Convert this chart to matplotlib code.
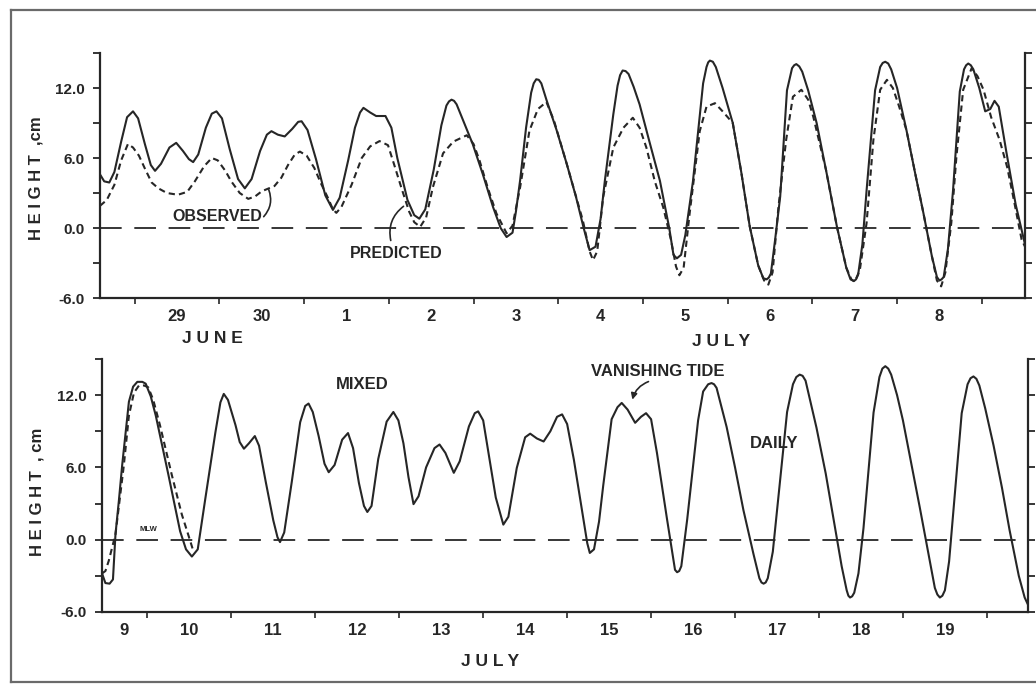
import matplotlib.pyplot as plt
from matplotlib.lines import Line2D

plt.rcParams['font.family'] = ['Liberation Sans', 'DejaVu Sans']
plt.rcParams['axes.unicode_minus'] = False

INK = '#262626'

# time axis: days since 1 July 00:00, heights in cm
top_obs_t = [-2.41, -2.36, -2.30, -2.24, -2.16, -2.09, -2.02, -1.96, -1.88, -1.81, -1.76, -1.69,
             -1.59, -1.51, -1.43, -1.36, -1.31, -1.25, -1.16, -1.09, -1.035, -0.97, -0.88, -0.78,
             -0.70, -0.62, -0.52, -0.44, -0.386, -0.31, -0.229, -0.14, -0.07, -0.03, 0.04, 0.14,
             0.25, 0.34, 0.42, 0.52, 0.60, 0.66, 0.70, 0.78, 0.85, 0.96, 1.03, 1.10, 1.22, 1.30,
             1.36, 1.43, 1.53, 1.62, 1.68, 1.71, 1.74, 1.77, 1.80, 1.90, 1.99, 2.11, 2.23, 2.32,
             2.39, 2.46, 2.50, 2.55, 2.62, 2.68, 2.71, 2.74, 2.77, 2.80, 2.86, 2.98, 3.10, 3.21,
             3.30, 3.37, 3.44, 3.50, 3.55, 3.65, 3.70, 3.73, 3.76, 3.795, 3.83, 3.89, 3.96, 4.08,
             4.20, 4.31, 4.36, 4.40, 4.45, 4.50, 4.59, 4.71, 4.75, 4.77, 4.79, 4.825, 4.86, 4.94,
             5.06, 5.16, 5.26, 5.36, 5.42, 5.46, 5.485, 5.51, 5.56, 5.62, 5.70, 5.76, 5.785, 5.81,
             5.845, 5.88, 5.95, 6.05, 6.16, 6.29, 6.40, 6.45, 6.49, 6.515, 6.54, 6.59, 6.64, 6.74,
             6.80, 6.83, 6.86, 6.895, 6.93, 7.00, 7.11, 7.21, 7.31, 7.41, 7.47, 7.50, 7.525, 7.55,
             7.60, 7.66, 7.74, 7.79, 7.815, 7.84, 7.87, 7.90, 7.97, 8.04, 8.10, 8.15, 8.20, 8.29,
             8.40, 8.51]
top_obs_h = [4.6, 4.0, 3.9, 4.8, 7.4, 9.5, 10.0, 9.4, 7.2, 5.4, 4.9, 5.5,
             6.9, 7.3, 6.6, 5.9, 5.65, 6.3, 8.6, 9.8, 10.0, 9.4, 6.8, 4.2,
             3.4, 4.2, 6.6, 8.0, 8.3, 8.0, 7.85, 8.5, 9.1, 9.15, 8.4, 5.9,
             2.8, 1.55, 2.6, 5.8, 8.6, 9.9, 10.3, 9.9, 9.6, 9.6, 8.6, 6.0, 2.4, 1.1,
             0.8, 1.6, 5.0, 8.8, 10.5, 10.85, 11.0, 10.9, 10.6, 8.8, 7.2, 4.6, 1.8, 0.0,
             -0.77, -0.4, 1.4, 4.1, 8.6, 11.6, 12.4, 12.75, 12.7, 12.4, 11.0, 8.4, 5.5, 2.65,
             0.0, -1.9, -1.6, 0.8, 4.05, 9.75, 12.2, 13.1, 13.5, 13.45, 13.2, 12.1, 10.6, 7.3,
             4.05, 0.0, -2.3, -2.6, -2.3, -0.6, 4.0, 12.4, 13.8, 14.2, 14.35, 14.25, 13.8, 12.0,
             9.0, 4.8, 0.15, -3.2, -4.3, -4.4, -4.25, -3.9, -1.0, 2.7, 11.8, 13.7, 13.95, 14.05,
             13.85, 13.4, 11.8, 9.0, 5.0, 0.1, -3.4, -4.4, -4.55, -4.4, -4.0, -1.4, 3.25, 11.8,
             13.8, 14.15, 14.25, 14.1, 13.6, 12.0, 8.4, 4.8, 1.3, -2.4, -4.2, -4.5, -4.4, -4.2,
             -1.8, 3.2, 11.7, 13.6, 13.95, 14.1, 13.95, 13.6, 12.0, 10.0, 10.2, 10.9, 10.4, 6.5,
             2.0, -1.4]

top_pred_t = [-2.41, -2.33, -2.24, -2.16, -2.08, -2.02, -1.95, -1.88, -1.80, -1.72, -1.62, -1.49,
              -1.38, -1.29, -1.18, -1.09, -1.02, -0.93, -0.86, -0.76, -0.66, -0.58, -0.50, -0.35,
              -0.27, -0.19, -0.11, -0.05, 0.03, 0.12, 0.20, 0.28, 0.34, 0.38, 0.44, 0.56, 0.68,
              0.78, 0.89, 0.99, 1.06, 1.15, 1.24, 1.30, 1.37, 1.44, 1.52, 1.64, 1.76, 1.92, 2.00,
              2.07, 2.17, 2.27, 2.39, 2.46, 2.55, 2.66, 2.76, 2.86, 2.95, 3.10, 3.29, 3.37, 3.41,
              3.46, 3.53, 3.65, 3.77, 3.88, 3.96, 4.04, 4.14, 4.24, 4.33, 4.39, 4.43, 4.48, 4.55,
              4.67, 4.75, 4.85, 4.94, 5.06, 5.16, 5.26, 5.36, 5.43, 5.48, 5.53, 5.60, 5.69, 5.77,
              5.87, 5.95, 6.01, 6.16, 6.29, 6.40, 6.46, 6.50, 6.56, 6.64, 6.72, 6.80, 6.88, 6.95,
              7.02, 7.11, 7.21, 7.31, 7.41, 7.47, 7.52, 7.57, 7.64, 7.70, 7.78, 7.88, 7.95, 8.02,
              8.11, 8.21, 8.30, 8.37, 8.47, 8.51]
top_pred_h = [1.9, 2.4, 3.7, 5.8, 7.2, 6.9, 6.2, 5.1, 3.9, 3.4, 3.0, 2.85,
              3.1, 4.0, 5.3, 6.0, 5.8, 4.9, 4.0, 3.0, 2.5, 2.7, 3.15, 3.6,
              4.3, 5.4, 6.3, 6.55, 6.2, 5.15, 3.8, 2.6, 1.6, 1.3, 1.8, 3.7, 6.0,
              7.0, 7.45, 7.1, 5.5, 3.4, 1.4, 0.5, 0.1, 0.9, 3.5, 6.4, 7.4, 7.95, 7.2,
              5.8, 3.4, 1.25, -0.45, 0.2, 3.5, 8.35, 10.2, 10.8, 9.2, 5.5, 0.65, -2.0, -2.75,
              -2.0, 2.65, 6.9, 8.6, 9.45, 8.6, 6.9, 4.0, 1.75, -1.0, -3.3, -4.05, -3.4, 1.2,
              8.3, 10.4, 10.7, 10.0, 9.0, 4.8, 0.15, -3.2, -4.5, -4.85, -3.8, 1.85, 7.55, 11.25,
              11.85, 11.0, 9.55, 5.0, 0.1, -3.4, -4.4, -4.6, -3.6, 0.45, 7.55, 11.85, 12.7, 12.0,
              10.5, 8.4, 4.8, 1.3, -2.4, -4.5, -5.0, -3.8, 0.45, 6.1, 11.85, 13.7, 13.0, 11.85,
              9.5, 7.55, 5.2, 2.7, -1.0, -1.6]

bot_obs_t = [8.46, 8.50, 8.55, 8.59, 8.62, 8.66, 8.70, 8.78, 8.83, 8.88, 8.94, 8.98, 9.04,
             9.10, 9.25, 9.39, 9.46, 9.53, 9.60, 9.69, 9.81, 9.87, 9.91, 9.96, 10.05, 10.10,
             10.15, 10.21, 10.28, 10.33, 10.41, 10.50, 10.55, 10.58, 10.63, 10.72, 10.82, 10.88,
             10.92, 10.97, 11.04, 11.11, 11.16, 11.23, 11.32, 11.39, 11.45, 11.52, 11.58, 11.62,
             11.67, 11.75, 11.85, 11.93, 11.99, 12.05, 12.11, 12.17, 12.23, 12.32, 12.42, 12.48,
             12.55, 12.65, 12.72, 12.83, 12.90, 12.94, 13.00, 13.06, 13.15, 13.24, 13.30, 13.40,
             13.50, 13.56, 13.64, 13.72, 13.80, 13.88, 13.94, 14.00, 14.08, 14.18, 14.24, 14.27,
             14.32, 14.38, 14.43, 14.53, 14.60, 14.65, 14.72, 14.81, 14.88, 14.94, 15.00, 15.07,
             15.19, 15.26, 15.285, 15.31, 15.335, 15.36, 15.43, 15.56, 15.62, 15.68, 15.72, 15.75,
             15.78, 15.90, 16.00, 16.10, 16.22, 16.29, 16.315, 16.34, 16.365, 16.39, 16.45, 16.50,
             16.62, 16.69, 16.73, 16.77, 16.805, 16.84, 16.97, 17.08, 17.17, 17.27, 17.33, 17.35,
             17.37, 17.395, 17.42, 17.47, 17.53, 17.65, 17.72, 17.755, 17.79, 17.825, 17.86, 17.93,
             18.00, 18.20, 18.30, 18.38, 18.41, 18.44, 18.47, 18.50, 18.55, 18.60, 18.70, 18.77,
             18.805, 18.84, 18.875, 18.91, 18.98, 19.08, 19.18, 19.27, 19.38, 19.45, 19.49]
bot_obs_h = [-2.8, -3.6, -3.65, -3.3, 0.45, 3.2, 6.2, 11.45, 12.7, 13.1, 13.1, 12.95, 11.9,
             10.3, 5.4, 0.7, -0.8, -1.4, -0.8, 3.4, 8.9, 11.4, 12.1, 11.6, 9.5, 8.1,
             7.55, 8.0, 8.6, 7.8, 4.8, 1.6, 0.2, -0.2, 0.6, 4.8, 9.75, 11.1,
             11.3, 10.6, 8.6, 6.3, 5.6, 6.2, 8.3, 8.85, 7.6, 4.7, 2.8, 2.3,
             2.8, 6.7, 9.8, 10.6, 9.9, 8.0, 5.2, 2.95, 3.6, 6.0, 7.6, 7.9,
             7.2, 5.55, 6.5, 9.4, 10.5, 10.65, 9.9, 7.35, 3.5, 1.25, 1.9, 5.95,
             8.5, 8.8, 8.4, 8.15, 9.0, 10.2, 10.4, 9.6, 6.65, 2.3, -0.3, -1.1,
             -0.8, 1.5, 4.5, 10.0, 11.0, 11.35, 10.8, 9.7, 10.2, 10.5, 10.0, 7.2,
             1.7, -1.4, -2.5, -2.7, -2.6, -2.2, 1.67, 9.9, 12.3, 12.9, 13.0, 12.9,
             12.6, 9.35, 6.0, 2.45, -1.2, -3.2, -3.55, -3.65, -3.55, -3.2, -1.0, 2.4,
             10.6, 12.9, 13.5, 13.7, 13.6, 13.2, 9.3, 5.5, 1.85, -2.2, -4.2, -4.65,
             -4.8, -4.7, -4.4, -2.8, 0.95, 10.55, 13.5, 14.2, 14.4, 14.2, 13.7, 12.0,
             9.9, 2.7, -1.0, -4.0, -4.55, -4.8, -4.65, -4.2, -1.8, 2.3, 10.5, 12.9,
             13.4, 13.55, 13.35, 12.8, 10.9, 7.8, 4.3, 0.8, -3.0, -4.8, -5.4]

bot_pred_t = [8.46, 8.50, 8.54, 8.62, 8.72, 8.78, 8.84, 8.90, 8.96, 9.01, 9.07, 9.15, 9.29,
              9.41, 9.51, 9.55]
bot_pred_h = [-2.8, -2.6, -1.75, 0.45, 6.2, 10.3, 12.2, 12.8, 12.8, 12.65, 11.6, 9.5, 5.4,
              2.1, -0.1, -1.0]

y_ticks = [-6, -3, 0, 3, 6, 9, 12, 15]
y_tick_labels = ['-6.0', '', '0.0', '', '6.0', '', '12.0', '']

top_midnights = [-2, -1, 0, 1, 2, 3, 4, 5, 6, 7, 8]
top_day_pos = [-1.5, -0.5, 0.5, 1.5, 2.5, 3.5, 4.5, 5.5, 6.5, 7.5]
top_day_labels = ['29', '30', '1', '2', '3', '4', '5', '6', '7', '8']

bot_midnights = [9, 10, 11, 12, 13, 14, 15, 16, 17, 18, 19]
bot_day_pos = [8.72, 9.5, 10.5, 11.5, 12.5, 13.5, 14.5, 15.5, 16.5, 17.5, 18.5]
bot_day_labels = ['9', '10', '11', '12', '13', '14', '15', '16', '17', '18', '19']


def style_axes(ax, xlim, midnights, day_pos, day_labels):
    ax.set_xlim(*xlim)
    ax.set_ylim(-6, 15)
    ax.spines['top'].set_visible(False)
    for s in ['left', 'right', 'bottom']:
        ax.spines[s].set_linewidth(1.6)
        ax.spines[s].set_color(INK)
    ax.set_yticks(y_ticks)
    ax.set_yticklabels(y_tick_labels)
    ax.tick_params(axis='y', which='major', direction='out', length=5, width=1.3,
                   color=INK, left=True, right=True, labelleft=True, labelright=False,
                   labelsize=11, pad=6, labelcolor=INK)
    for lab in ax.get_yticklabels():
        lab.set_fontweight('bold')
    ax.set_xticks(midnights)
    ax.set_xticklabels([])
    ax.set_xticks(day_pos, minor=True)
    ax.set_xticklabels(day_labels, minor=True, fontsize=12, fontweight='bold', color=INK)
    ax.tick_params(axis='x', which='major', direction='out', length=4, width=1.2, color=INK)
    ax.tick_params(axis='x', which='minor', length=0, pad=8)
    ax.axhline(0, color=INK, lw=1.3, ls=(0, (12, 7)), zorder=1)


fig = plt.figure(figsize=(10.36, 6.84), dpi=100)

ax1 = fig.add_axes([0.0965, 0.5643, 0.8929, 0.3582])
ax1.plot(top_obs_t, top_obs_h, color=INK, lw=1.5, solid_joinstyle='round')
ax1.plot(top_pred_t, top_pred_h, color=INK, lw=1.5, ls=(0, (3, 2)))
style_axes(ax1, (-2.41, 8.51), top_midnights, top_day_pos, top_day_labels)

ax2 = fig.add_axes([0.0985, 0.1053, 0.8938, 0.3699])
ax2.plot(bot_obs_t, bot_obs_h, color=INK, lw=1.5, solid_joinstyle='round')
ax2.plot(bot_pred_t, bot_pred_h, color=INK, lw=1.5, ls=(0, (3, 2)))
style_axes(ax2, (8.46, 19.49), bot_midnights, bot_day_pos, bot_day_labels)

txt = dict(color=INK, fontweight='bold', ha='center', va='center')

# upper panel labels
ax1.text(-1.02, 1.0, 'OBSERVED', fontsize=11.5, **txt)
ax1.annotate('', xy=(-0.43, 3.5), xytext=(-0.50, 0.8),
             arrowprops=dict(arrowstyle='-', color=INK, lw=1.2,
                             connectionstyle='arc3,rad=0.35'))
ax1.text(1.09, -2.15, 'PREDICTED', fontsize=11.5, **txt)
ax1.annotate('', xy=(1.20, 2.0), xytext=(1.03, -1.3),
             arrowprops=dict(arrowstyle='-', color=INK, lw=1.2,
                             connectionstyle='arc3,rad=-0.35'))

# lower panel labels
ax2.text(11.56, 12.9, 'MIXED', fontsize=12, **txt)
ax2.text(15.08, 14.0, 'VANISHING TIDE', fontsize=12, **txt)
ax2.annotate('', xy=(14.77, 11.4), xytext=(15.0, 13.2),
             arrowprops=dict(arrowstyle='-|>', color=INK, lw=1.2, mutation_scale=9,
                             connectionstyle='arc3,rad=0.3'))
ax2.text(16.46, 8.0, 'DAILY', fontsize=12, **txt)
ax2.text(9.01, 0.85, 'MLW', fontsize=5.5, **txt)

# month names and y labels
fig.text(212 / 1036, 1 - 338 / 684, 'J U N E', fontsize=12.5, **txt)
fig.text(721 / 1036, 1 - 341 / 684, 'J U L Y', fontsize=12.5, **txt)
fig.text(490 / 1036, 1 - 662 / 684, 'J U L Y', fontsize=12.5, **txt)
fig.text(36 / 1036, 1 - 178 / 684, 'H E I G H T  ,cm', fontsize=12, rotation=90, **txt)
fig.text(37 / 1036, 1 - 492 / 684, 'H E I G H T  , cm', fontsize=12, rotation=90, **txt)

# frame of the scanned page
frame = dict(color='#6a6a6a', lw=1.6, transform=fig.transFigure)
fig.add_artist(Line2D([11 / 1036, 11 / 1036], [1 - 682 / 684, 1 - 10 / 684], **frame))
fig.add_artist(Line2D([11 / 1036, 1.0], [1 - 10 / 684, 1 - 10 / 684], **frame))
fig.add_artist(Line2D([11 / 1036, 1.0], [1 - 682 / 684, 1 - 682 / 684], **frame))

fig.savefig('out.png', dpi=100)
